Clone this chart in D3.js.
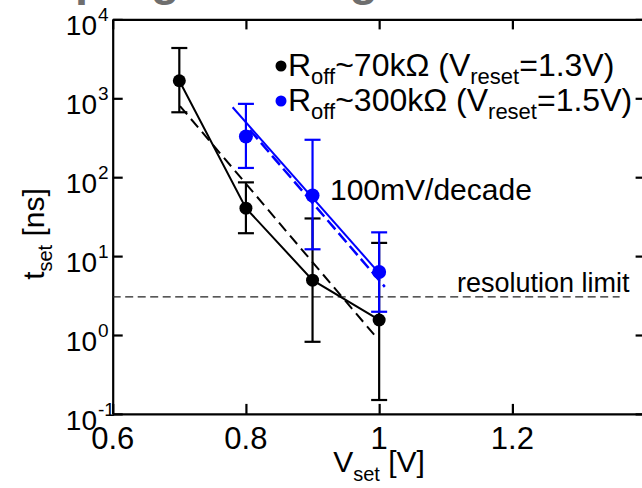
<!DOCTYPE html>
<html><head><meta charset="utf-8">
<script src="https://cdn.jsdelivr.net/npm/d3@7"></script>
<style>body{margin:0;background:#fff}text{font-family:"Liberation Sans",Arial,sans-serif}</style>
</head><body><svg id="c" width="642" height="488"></svg>
<script>
// ---- data ----
const vset = [0.7, 0.8, 0.9, 1.0];
const blackT = [1670, 40.5, 4.96, 1.55];
const blackHi = [4340, 86, 30, 14.7];
const blackLo = [665, 19.5, 0.82, 0.15];
const blueV = [0.8, 0.9, 1.0];
const blueT = [328, 58.6, 6.3];
const blueHi = [850, 298, 20];
const blueLo = [131, 12.2, 1.97];
const blackFitV = [0.701, 0.996];
const blackFitT = [798, 0.93];
const blueFitV = [0.780, 0.996];
const blueFitT = [770, 6.65];
const blueDashV = [0.806, 1.0085];
const blueDashT = [396, 4.08];
const resolutionT = 3.05;
const resolutionV = [0.6, 1.361];
const xTicks = [0.6, 0.8, 1.0, 1.2];
const xTickLabels = ["0.6", "0.8", "1", "1.2"];
const yTicks = [1e-1, 1, 10, 100, 1e3, 1e4];
const yExp = ["-1", "0", "1", "2", "3", "4"];

// ---- chart ----
const svg = d3.select("#c");
const L = 112.7, R = 645.6, T = 19.4, B = 413.9;
const x = d3.scaleLinear().domain([0.6, 1.4]).range([L, R]);
const y = d3.scaleLog().domain([0.1, 1e4]).range([B, T]);

// cropped title (only descenders visible)
svg.append("text").attr("x", 75).attr("y", -5)
  .attr("font-size", 47).attr("font-weight", "bold").attr("fill", "#6e6e6e")
  .text("programming kinetics");

const tick = 10;
function styleAxis(g){ g.selectAll("path,line").attr("stroke","#000").attr("stroke-width",2.2); g.selectAll("text").remove(); }
svg.append("g").attr("transform",`translate(0,${B})`)
  .call(d3.axisBottom(x).tickValues(xTicks.concat([1.4])).tickSizeInner(-tick).tickSizeOuter(0)).call(styleAxis);
svg.append("g").attr("transform",`translate(0,${T})`)
  .call(d3.axisTop(x).tickValues(xTicks.concat([1.4])).tickSizeInner(-tick).tickSizeOuter(0)).call(styleAxis);
svg.append("g").attr("transform",`translate(${L},0)`)
  .call(d3.axisLeft(y).tickValues(yTicks).tickSizeInner(-tick).tickSizeOuter(0)).call(styleAxis);
svg.append("g").attr("transform",`translate(${R},0)`)
  .call(d3.axisRight(y).tickValues(yTicks).tickSizeInner(-tick).tickSizeOuter(0)).call(styleAxis);

// x tick labels
svg.selectAll(".xl").data(xTicks).enter().append("text")
  .attr("x", d => x(d)).attr("y", B + 35).attr("text-anchor","middle")
  .attr("font-size", 31).text((d,i) => xTickLabels[i]);
// y tick labels
yTicks.forEach((d,i) => {
  const t = svg.append("text").attr("x", 97).attr("y", y(d) + 16).attr("text-anchor","end").attr("font-size", 28).text("10");
  svg.append("text").attr("x", 98).attr("y", y(d) + 2).attr("font-size", 19).text(yExp[i]);
});

// axis titles
const xt = svg.append("text").attr("x", 379).attr("y", 472).attr("text-anchor","middle").attr("font-size", 30);
xt.append("tspan").text("V");
xt.append("tspan").attr("font-size", 20).attr("dy", 9).text("set");
xt.append("tspan").attr("dy", -9).text(" [V]");
const yt = svg.append("text").attr("transform","translate(44,234) rotate(-90)").attr("text-anchor","middle").attr("font-size", 30);
yt.append("tspan").text("t");
yt.append("tspan").attr("font-size", 20).attr("dy", 8).text("set");
yt.append("tspan").attr("dy", -8).text(" [ns]");

// resolution limit
svg.append("line").attr("x1", x(resolutionV[0])).attr("x2", x(resolutionV[1]))
  .attr("y1", y(resolutionT)).attr("y2", y(resolutionT))
  .attr("stroke","#222").attr("stroke-width",1.2).attr("stroke-dasharray","8,4.5");
svg.append("text").attr("x", 457).attr("y", 292).attr("font-size", 27).text("resolution limit");
svg.append("text").attr("x", 330).attr("y", 200).attr("font-size", 30).text("100mV/decade");

const line = d3.line().x(d => x(d[0])).y(d => y(d[1]));
function series(V, Tv, Hi, Lo, color, r){
  const g = svg.append("g");
  V.forEach((v,i) => {
    g.append("line").attr("x1",x(v)).attr("x2",x(v)).attr("y1",y(Hi[i])).attr("y2",y(Lo[i])).attr("stroke",color).attr("stroke-width",2.2);
    [Hi[i], Lo[i]].forEach(e => g.append("line").attr("x1",x(v)-8).attr("x2",x(v)+8).attr("y1",y(e)).attr("y2",y(e)).attr("stroke",color).attr("stroke-width",2.2));
  });
  return g;
}
// black series
series(vset, blackT, blackHi, blackLo, "#000");
svg.append("path").datum(vset.map((v,i)=>[v,blackT[i]])).attr("d", line).attr("fill","none").attr("stroke","#000").attr("stroke-width",2);
svg.append("path").datum(blackFitV.map((v,i)=>[v,blackFitT[i]])).attr("d", line).attr("fill","none").attr("stroke","#000").attr("stroke-width",2).attr("stroke-dasharray","11,6");
svg.selectAll(".bd").data(vset).enter().append("circle").attr("cx", d=>x(d)).attr("cy",(d,i)=>y(blackT[i])).attr("r",6.5).attr("fill","#000");

// blue series
series(blueV, blueT, blueHi, blueLo, "#0000ff");
svg.append("path").datum(blueFitV.map((v,i)=>[v,blueFitT[i]])).attr("d", line).attr("fill","none").attr("stroke","#0000ff").attr("stroke-width",2);
svg.append("path").datum(blueDashV.map((v,i)=>[v,blueDashT[i]])).attr("d", line).attr("fill","none").attr("stroke","#0000ff").attr("stroke-width",2.5).attr("stroke-dasharray","12,5");
svg.selectAll(".ud").data(blueV).enter().append("circle").attr("cx", d=>x(d)).attr("cy",(d,i)=>y(blueT[i])).attr("r",7).attr("fill","#0000ff");

// legend
const leg = [
  {c:"#000", r:"70k", v:"1.3", y:66},
  {c:"#0000ff", r:"300k", v:"1.5", y:101}
];
leg.forEach(d => {
  svg.append("circle").attr("cx", 281).attr("cy", d.y).attr("r", 5.5).attr("fill", d.c);
  const t = svg.append("text").attr("x", 288).attr("y", d.y + 10).attr("font-size", 32);
  t.append("tspan").text("R");
  t.append("tspan").attr("font-size", 22).attr("dy", 8).text("off");
  t.append("tspan").attr("dy", -8).text("~" + d.r + "Ω (V");
  t.append("tspan").attr("font-size", 22).attr("dy", 8).text("reset");
  t.append("tspan").attr("dy", -8).text("=" + d.v + "V)");
});
</script></body></html>
